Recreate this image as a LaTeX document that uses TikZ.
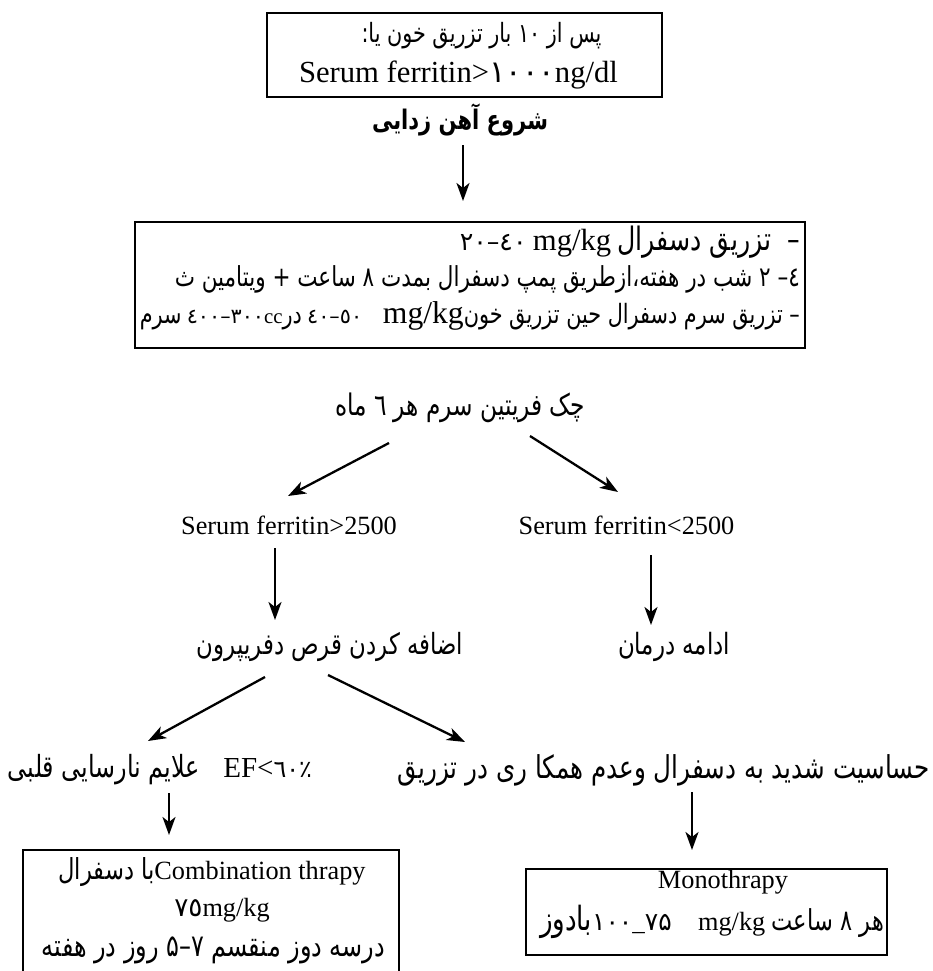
\documentclass[tikz,border=0pt]{standalone}
\usepackage{fontspec}
\usepackage{graphicx}
\setmainfont{Liberation Serif}
\newfontfamily\arfont[Script=Arabic]{DejaVu Sans}
\TeXXeTstate=1
\usetikzlibrary{arrows.meta}
\newcommand\AR[1]{\scalebox{1}[1.28]{\arfont\beginR #1\endR}}
\newcommand\ARB[1]{\scalebox{1}[1.28]{\arfont\bfseries\beginR #1\endR}}
\newcommand\AN[1]{{\arfont #1}}
\newcommand\fitw[2]{\resizebox{#1pt}{!}{#2}}
\begin{document}
\begin{tikzpicture}[x=1pt,y=-1pt,
  txt/.style={inner sep=0pt, font=\fontsize{26.3}{30}\selectfont},
  box/.style={draw=black, line width=2.6pt, inner sep=0pt},
  arr/.style={-{Stealth[length=18pt,width=13pt,inset=5pt]}, line width=2.3pt}]
\useasboundingbox (0,0) rectangle (932,971);

% boxes
\node[box, minimum width=395pt, minimum height=84pt] (topbox) at (464.5,55) {};
\node[box, minimum width=670pt, minimum height=126pt] (box2) at (470,285) {};
\node[box, minimum width=376pt, minimum height=140pt] (combbox) at (211,920) {};
\node[box, minimum width=361pt, minimum height=86pt] (monobox) at (706.5,912) {};

% top
\node[txt] (t1) at (481.5,36) {\fitw{240}{\AR{پس از ۱۰ بار تزریق خون یا:}}};
\node[txt] (t2) at (458.5,75) {\fitw{319}{Serum ferritin>\AN{۱۰۰۰}ng/dl}};
\node[txt] (start) at (460,120) {\fitw{176}{\ARB{شروع آهن زدایی}}};

% box 2 lines
\node[txt, anchor=east] (b2a) at (800,242) {\fitw{340}{\AN{٢٠}\kern0pt\AN{–}\kern0pt\AN{٤٠}\ {\fontsize{32}{32}\selectfont mg/kg}\ \AR{–\ \ تزریق دسفرال}}};
\node[txt, anchor=east] (b2b) at (800,279) {\fitw{625}{\AR{٤– ٢ شب در هفته،ازطریق پمپ دسفرال بمدت ٨ ساعت + ویتامین ث}}};
\node[txt, anchor=east] (b2c) at (800,316) {\fitw{660}{\AR{سرم} \AN{٤٠٠}\kern0pt\AN{–}\kern0pt\AN{٣٠٠}cc\AR{در} \AN{٤٠}\kern0pt\AN{–}\kern0pt\AN{٥٠}\quad{\fontsize{40}{40}\selectfont mg/kg}\AR{– تزریق سرم دسفرال حین تزریق خون}}};

% middle
\node[txt] (check) at (460,408) {\fitw{250}{\AR{چک فریتین سرم هر ٦ ماه}}};
\node[txt] (hi) at (289,525) {Serum ferritin>2500};
\node[txt] (lo) at (626.5,525) {Serum ferritin<2500};
\node[txt] (add) at (330,647) {\fitw{266}{\AR{اضافه کردن قرص دفریپرون}}};
\node[txt] (cont) at (674,647) {\fitw{112}{\AR{ادامه درمان}}};

% lower
\node[txt] (ef) at (160,770) {\fitw{304}{\AR{علایم نارسایی قلبی}\quad{\fontsize{32}{32}\selectfont EF<}\AN{٦٠}\kern0pt\AN{٪}}};
\node[txt] (sens) at (664,770) {\fitw{532}{\AR{حساسیت شدید به دسفرال وعدم همکا ری در تزریق}}};

% combination box
\node[txt] (c1) at (212,872) {\fitw{96}{\AR{با دسفرال}}Combination thrapy};
\node[txt] (c2) at (222,910) {\AN{٧٥}mg/kg};
\node[txt] (c3) at (213.5,950) {\fitw{343}{\AR{درسه دوز منقسم ۷–۵ روز در هفته}}};

% mono box
\node[txt] (m1) at (723,882) {Monothrapy};
\node[txt] (m2) at (712,922) {\fitw{52}{\AR{بادوز}}{\fontsize{25}{25}\selectfont\AN{۱۰۰}\_\AN{۷۵}}\quad mg/kg \fitw{112}{\AR{هر ۸ ساعت}}};

% arrow end points
\coordinate (a1s) at (463,145); \coordinate (a1e) at (463,201);
\coordinate (a2s) at (389,443); \coordinate (a2e) at (288,496);
\coordinate (a3s) at (530,436); \coordinate (a3e) at (618,492);
\coordinate (a4s) at (275,548); \coordinate (a4e) at (275,620);
\coordinate (a5s) at (651,555); \coordinate (a5e) at (651,625);
\coordinate (a6s) at (265,677); \coordinate (a6e) at (148,741);
\coordinate (a7s) at (328,675); \coordinate (a7e) at (465,742);
\coordinate (a8s) at (169,793); \coordinate (a8e) at (169,835);
\coordinate (a9s) at (692,792); \coordinate (a9e) at (692,850);

\foreach \i in {1,...,9} \draw[arr] (a\i s) -- (a\i e);
\end{tikzpicture}
\end{document}
